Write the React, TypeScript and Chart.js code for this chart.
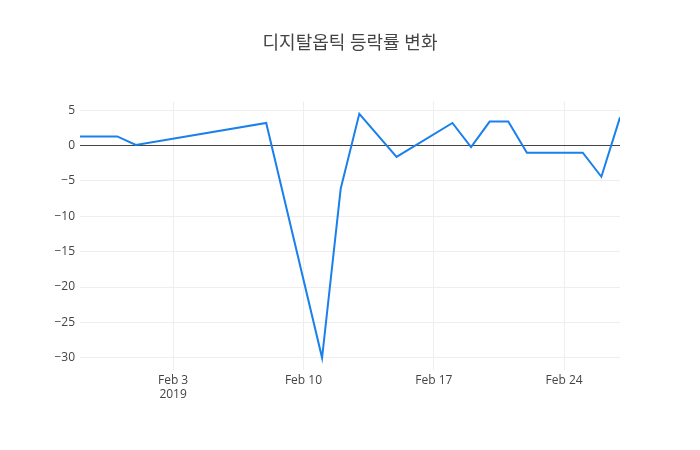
import React, { useRef, useEffect } from "react";
import { Chart, registerables, ChartConfiguration } from "chart.js";

Chart.register(...registerables);

const title = "디지탈옵틱 등락률 변화";

const dates = [
  "2019-01-29",
  "2019-01-30",
  "2019-01-31",
  "2019-02-01",
  "2019-02-08",
  "2019-02-11",
  "2019-02-12",
  "2019-02-13",
  "2019-02-15",
  "2019-02-18",
  "2019-02-19",
  "2019-02-20",
  "2019-02-21",
  "2019-02-22",
  "2019-02-25",
  "2019-02-26",
  "2019-02-27",
];
const changes = [
  1.3, 1.3, 1.3, 0.1, 3.2, -30.0, -6.1, 4.5, -1.6, 3.2, -0.2, 3.4, 3.4, -1.0,
  -1.0, -4.4, 4.0,
];

const xTickDates = ["2019-02-03", "2019-02-10", "2019-02-17", "2019-02-24"];
const xTickLabels: (string | string[])[] = [
  ["Feb 3", "2019"],
  "Feb 10",
  "Feb 17",
  "Feb 24",
];
const yTicks = [5, 0, -5, -10, -15, -20, -25, -30];

const FONT = '"Open Sans", "Noto Sans CJK KR", sans-serif';

const toDay = (s: string) => {
  const [y, m, d] = s.split("-").map(Number);
  return Date.UTC(y, m - 1, d) / 86400000;
};

const ChangeChart = () => {
  const canvasRef = useRef<HTMLCanvasElement | null>(null);
  const chartRef = useRef<Chart | null>(null);

  useEffect(() => {
    if (!canvasRef.current) return;
    const ctx = canvasRef.current.getContext("2d");
    if (!ctx) return;
    if (chartRef.current) chartRef.current.destroy();

    const points = dates.map((d, i) => ({ x: toDay(d), y: changes[i] }));
    const lo = Math.min(...changes);
    const hi = Math.max(...changes);
    const pad = (hi - lo) * 0.05;
    const tickDays = xTickDates.map(toDay);

    const config: ChartConfiguration<"line"> = {
      type: "line",
      data: {
        datasets: [
          {
            data: points,
            borderColor: "#1a80ec",
            borderWidth: 2,
            pointRadius: 0,
            tension: 0,
            fill: false,
            yAxisID: "y",
          },
        ],
      },
      options: {
        animation: false,
        responsive: false,
        layout: { padding: 0 },
        plugins: {
          legend: { display: false },
          tooltip: { enabled: false },
          title: {
            display: true,
            text: title,
            color: "#444",
            font: { family: FONT, size: 18, weight: "normal" },
            padding: { top: 33, bottom: 47 },
          },
        },
        scales: {
          x: {
            type: "linear",
            min: toDay(dates[0]),
            max: toDay(dates[dates.length - 1]),
            afterBuildTicks: (scale) => {
              scale.ticks = tickDays.map((v) => ({ value: v }));
            },
            afterFit: (scale) => {
              scale.height = 80;
            },
            ticks: {
              autoSkip: false,
              maxRotation: 0,
              padding: 3,
              color: "#444",
              font: { family: FONT, size: 12 },
              callback: (v) => {
                const i = tickDays.indexOf(Number(v));
                return i >= 0 ? xTickLabels[i] : "";
              },
            },
            grid: { color: "#eee", drawTicks: false },
            border: { display: false },
          },
          y: {
            type: "linear",
            position: "left",
            min: lo - pad,
            max: hi + pad,
            afterBuildTicks: (scale) => {
              scale.ticks = yTicks.map((v) => ({ value: v }));
            },
            afterFit: (scale) => {
              scale.width = 80;
            },
            ticks: {
              padding: 5,
              color: "#444",
              font: { family: FONT, size: 12 },
              callback: (v) => String(v).replace("-", "\u2212"),
            },
            grid: {
              drawTicks: false,
              color: (c) => (c.tick && c.tick.value === 0 ? "#444" : "#eee"),
            },
            border: { display: false },
          },
          // empty right-hand axis only to reserve the right margin
          yRight: {
            type: "linear",
            position: "right",
            afterFit: (scale) => {
              scale.width = 80;
            },
            ticks: { display: false },
            grid: { display: false, drawTicks: false },
            border: { display: false },
          },
        },
      },
    };

    chartRef.current = new Chart(ctx, config);
    return () => {
      if (chartRef.current) {
        chartRef.current.destroy();
        chartRef.current = null;
      }
    };
  }, []);

  return <canvas ref={canvasRef} width="700" height="450"></canvas>;
};

export default function App() {
  return (
    <div
      style={{
        position: "absolute",
        left: 0,
        top: 0,
        width: 700,
        height: 450,
        background: "#fff",
      }}
    >
      <ChangeChart />
    </div>
  );
}
